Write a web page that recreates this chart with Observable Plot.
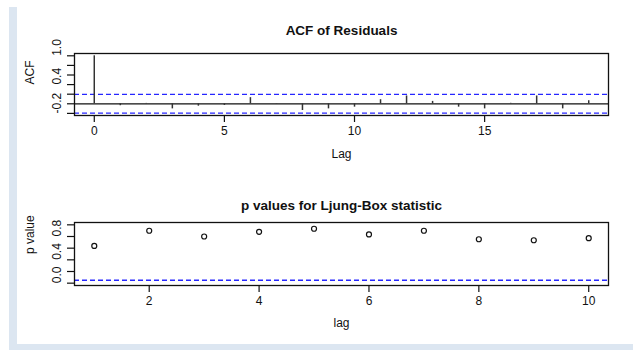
<!DOCTYPE html>
<html>
<head>
<meta charset="utf-8">
<script src="https://cdn.jsdelivr.net/npm/d3@7"></script>
<script src="https://cdn.jsdelivr.net/npm/@observablehq/plot@0.6"></script>
<style>
  html, body { margin: 0; padding: 0; background: #fff; }
  #wrap { position: relative; width: 633px; height: 350px; background: #fff; overflow: hidden; }
  .band { position: absolute; background: #dce6f1; }
  .panel { position: absolute; left: 0; }
  svg { font-family: "Liberation Sans", Arial, sans-serif; }
</style>
</head>
<body>
<div id="wrap">
  <div class="band" style="left:9px;top:7px;width:8px;height:337px;"></div>
  <div class="band" style="left:9px;top:344px;width:624px;height:6px;"></div>
  <div class="panel" id="p1" style="top:0px;"></div>
  <div class="panel" id="p2" style="top:175px;"></div>
</div>
<script>
// ---- ACF of residuals ----
const acfLags = [0,1,2,3,4,5,6,7,8,9,10,11,12,13,14,15,16,17,18,19];
const acfValues = [1.0, -0.04, 0.008, -0.106, -0.05, -0.035, 0.128, -0.006, -0.14, -0.106,
                   -0.07, 0.085, 0.163, 0.05, -0.07, -0.106, 0.01, 0.163, -0.106, 0.064];
const acfCI = 0.196;
const acfYTicks = [-0.2, 0, 0.2, 0.4, 0.6, 0.8, 1.0];
const acfYTickLabels = [-0.2, 0.4, 1.0];
const acfXTicks = [0, 5, 10, 15];

// ---- Ljung-Box p values ----
const lbLags = [1,2,3,4,5,6,7,8,9,10];
const lbPValues = [0.638, 0.899, 0.80, 0.88, 0.933, 0.835, 0.899, 0.753, 0.736, 0.771];
const lbThreshold = 0.05;
const lbYTicks = [0, 0.2, 0.4, 0.6, 0.8, 1.0];
const lbYTickLabels = [0, 0.4, 0.8];
const lbXTicks = [2, 4, 6, 8, 10];

const ink = "#111";
const blue = "#2626ff";
const tickFont = 12;
const fmt1 = d => d.toFixed(1);

const acfData = acfLags.map((lag, i) => ({lag, acf: acfValues[i]}));
const lbData = lbLags.map((lag, i) => ({lag, p: lbPValues[i]}));

const chart1 = Plot.plot({
  width: 633,
  height: 175,
  marginLeft: 74,
  marginRight: 25,
  marginTop: 53,
  marginBottom: 60,
  style: {fontFamily: "Liberation Sans, Arial, sans-serif", fontSize: "12px", color: ink, background: "transparent"},
  x: {domain: [-0.76, 19.76]},
  y: {domain: [-0.244, 1.048]},
  marks: [
    Plot.ruleY([acfCI, -acfCI], {stroke: blue, strokeWidth: 1.3, strokeDasharray: "5,3"}),
    Plot.ruleY([0], {stroke: ink, strokeWidth: 1.2}),
    Plot.ruleX(acfData, {x: "lag", y1: 0, y2: "acf", stroke: "#333", strokeWidth: 1.5}),
    Plot.frame({stroke: ink, strokeWidth: 1.3}),
    Plot.axisY({ticks: acfYTicks, tickSize: 7, tickFormat: () => "", label: null, stroke: ink, strokeWidth: 1.2}),
    Plot.axisX({ticks: acfXTicks, tickSize: 7, tickFormat: () => "", label: null, stroke: ink, strokeWidth: 1.2}),
    Plot.text(acfYTickLabels, {y: d => d, text: fmt1, frameAnchor: "left", dx: -17, rotate: -90, fontSize: tickFont, fill: ink}),
    Plot.text(acfXTicks, {x: d => d, text: d => String(d), frameAnchor: "bottom", dy: 19, fontSize: tickFont, fill: ink}),
    Plot.text(["ACF of Residuals"], {frameAnchor: "top", dy: -28, fontSize: 13.5, fontWeight: "bold", fill: ink}),
    Plot.text(["Lag"], {frameAnchor: "bottom", dy: 42, fontSize: tickFont, fill: ink}),
    Plot.text(["ACF"], {frameAnchor: "left", dx: -44, rotate: -90, fontSize: tickFont, fill: ink})
  ]
});
document.getElementById("p1").appendChild(chart1);

const chart2 = Plot.plot({
  width: 633,
  height: 175,
  marginLeft: 74,
  marginRight: 25,
  marginTop: 47,
  marginBottom: 65,
  style: {fontFamily: "Liberation Sans, Arial, sans-serif", fontSize: "12px", color: ink, background: "transparent"},
  x: {domain: [0.64, 10.36]},
  y: {domain: [-0.04, 1.04]},
  marks: [
    Plot.ruleY([lbThreshold], {stroke: blue, strokeWidth: 1.3, strokeDasharray: "5,3"}),
    Plot.dot(lbData, {x: "lag", y: "p", r: 2.5, stroke: ink, strokeWidth: 1.2, fill: "none"}),
    Plot.frame({stroke: ink, strokeWidth: 1.3}),
    Plot.axisY({ticks: lbYTicks, tickSize: 7, tickFormat: () => "", label: null, stroke: ink, strokeWidth: 1.2}),
    Plot.axisX({ticks: lbXTicks, tickSize: 7, tickFormat: () => "", label: null, stroke: ink, strokeWidth: 1.2}),
    Plot.text(lbYTickLabels, {y: d => d, text: fmt1, frameAnchor: "left", dx: -17, rotate: -90, fontSize: tickFont, fill: ink}),
    Plot.text(lbXTicks, {x: d => d, text: d => String(d), frameAnchor: "bottom", dy: 19, fontSize: tickFont, fill: ink}),
    Plot.text(["p values for Ljung-Box statistic"], {frameAnchor: "top", dy: -22, fontSize: 13.5, fontWeight: "bold", fill: ink}),
    Plot.text(["lag"], {frameAnchor: "bottom", dy: 41, fontSize: tickFont, fill: ink}),
    Plot.text(["p value"], {frameAnchor: "left", dx: -44, rotate: -90, fontSize: tickFont, fill: ink})
  ]
});
document.getElementById("p2").appendChild(chart2);
</script>
</body>
</html>
